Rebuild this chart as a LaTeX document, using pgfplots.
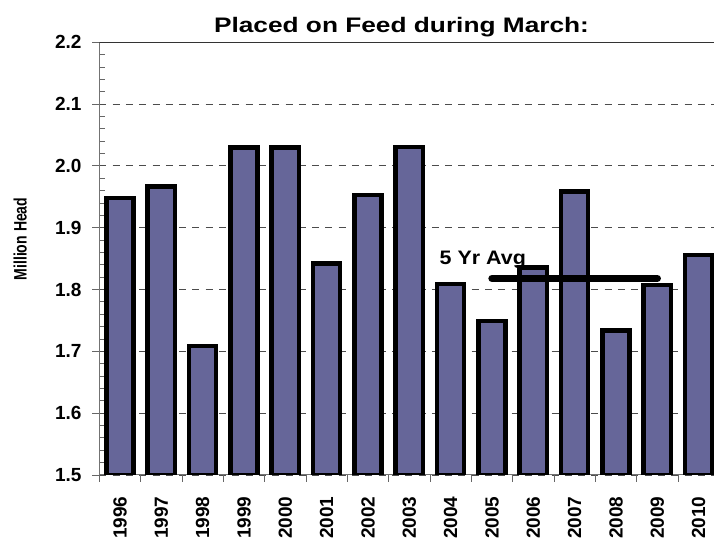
\documentclass[border=0pt]{standalone}
\usepackage{pgfplots}
\pgfplotsset{compat=1.18}
\usepackage{graphicx}
\usepackage{fontspec}
\setmainfont{Liberation Sans}
\definecolor{barfill}{RGB}{102,102,153}

\begin{document}
\begin{tikzpicture}[x=1bp,y=1bp]
\useasboundingbox (0,0) rectangle (714,538);
\begin{axis}[
  at={(99.3bp,63bp)}, anchor=south west,
  scale only axis, width=620bp, height=432.7bp,
  xmin=-0.5, xmax=14.5, ymin=1.5, ymax=2.2,
  axis x line*=bottom, axis y line*=left,
  axis line style={black!55, line width=1bp},
  xtick={-0.5,0.5,...,14.5},
  x tick label as interval,
  xticklabels={1996,1997,1998,1999,2000,2001,2002,2003,2004,2005,2006,2007,2008,2009,2010},
  ytick={1.5,1.6,1.7,1.8,1.9,2.0,2.1,2.2},
  minor y tick num=4,
  tick align=outside,
  major tick length=7bp,
  minor tick length=5.7bp,
  every minor tick/.append style={xshift=5.7bp},
  tick style={black!60, line width=0.9bp},
  /pgf/number format/assume math mode=true,
  yticklabel style={/pgf/number format/fixed, /pgf/number format/fixed zerofill, /pgf/number format/precision=1, inner sep=0pt, anchor=east},
  tick label style={font=\bfseries\fontsize{19bp}{19bp}\selectfont},
  xticklabel style={rotate=90, anchor=east, inner sep=0pt},
  xticklabel shift=14.5bp,
  yticklabel shift=10.6bp,
  ymajorgrids,
  major grid style={dash pattern=on 7bp off 6.3bp, line width=0.9bp, black!70},
  clip=true,
]
\addplot[ybar, bar width=27.2bp, fill=barfill, draw=black, line width=4.5bp] coordinates {
(0,1.948) (1,1.967) (2,1.709) (3,2.030) (4,2.030) (5,1.842) (6,1.953) (7,2.031)
(8,1.809) (9,1.749) (10,1.836) (11,1.959) (12,1.734) (13,1.807) (14,1.856)
};
\addplot[black, line width=7.3bp, line cap=round] coordinates {(9,1.818) (13,1.818)};
\draw[black!80, line width=1.2bp] (rel axis cs:0,1) -- (rel axis cs:1,1);
\node[anchor=base west, inner sep=0pt, font=\bfseries\fontsize{19.5bp}{20bp}\selectfont] at (axis cs:7.73,1.8413) {\scalebox{1.1}[1]{5 Yr Avg}};
\end{axis}
\node[anchor=base, inner sep=0pt] at (401.5,505.7) {\scalebox{1.25}[1]{\fontsize{21bp}{21bp}\selectfont\bfseries Placed on Feed during March:}};
\node[rotate=90, anchor=base, inner sep=0pt] at (26.5,299) {\scalebox{0.78}[1]{\fontsize{18bp}{18bp}\selectfont\bfseries Million Head}};
\end{tikzpicture}
\end{document}
